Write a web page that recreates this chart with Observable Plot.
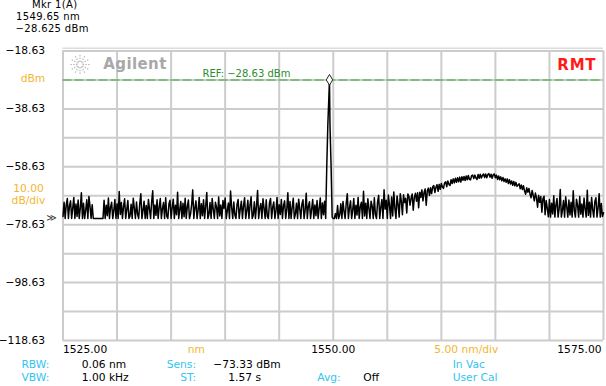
<!DOCTYPE html>
<html>
<head>
<meta charset="utf-8">
<script src="https://cdn.jsdelivr.net/npm/d3@7"></script>
<script src="https://cdn.jsdelivr.net/npm/@observablehq/plot@0.6"></script>
<style>
  html, body { margin: 0; padding: 0; background: white; }
  #chart svg { display: block; }
</style>
</head>
<body>
<div id="chart"></div>
<script>
// ---------- data ----------
const traceStartNm = 1525;
const traceStepNm = 0.1;
// OSA trace power (dBm), one value per 0.1 nm from 1525.0 to 1575.0
const tracePowerDbm = [
  -75.8,-70.9,-76.5,-71.8,-69.6,-76.5,-72.1,-70.4,-76.5,-73.0,
  -69.2,-76.5,-71.5,-75.8,-70.1,-76.5,-72.9,-67.6,-76.5,-71.2,
  -76.5,-73.6,-70.0,-76.5,-68.9,-72.4,-76.5,-71.7,-76.5,-76.5,
  -76.5,-76.5,-76.5,-76.5,-76.5,-76.5,-76.5,-76.5,-70.2,-76.5,
  -71.9,-75.5,-69.4,-76.5,-72.6,-70.9,-76.5,-73.8,-69.9,-76.5,
  -71.4,-76.5,-67.2,-75.1,-71.0,-76.5,-72.3,-69.7,-76.5,-73.4,
  -70.3,-76.5,-75.6,-71.6,-76.5,-69.5,-72.9,-76.5,-70.8,-75.0,
  -76.5,-71.3,-67.9,-76.5,-73.7,-70.5,-76.5,-72.0,-76.5,-69.9,
  -73.2,-76.5,-70.7,-66.9,-76.5,-71.8,-75.4,-70.0,-76.5,-72.6,
  -69.6,-76.5,-73.1,-71.0,-76.5,-69.3,-75.7,-76.5,-71.5,-70.2,
  -76.5,-72.7,-69.8,-76.5,-71.9,-75.2,-67.4,-76.5,-73.5,-70.6,
  -76.5,-71.2,-75.9,-69.5,-76.5,-72.4,-70.1,-76.5,-75.0,-71.7,
  -66.6,-76.5,-72.8,-70.4,-76.5,-73.6,-69.2,-76.5,-71.4,-75.5,
  -70.0,-76.5,-72.2,-67.5,-76.5,-75.1,-71.0,-76.5,-69.6,-73.3,
  -76.5,-70.9,-72.5,-76.5,-69.1,-75.6,-71.8,-76.5,-70.3,-73.0,
  -69.4,-76.5,-73.7,-71.1,-76.5,-67.0,-72.6,-76.5,-70.8,-75.3,
  -76.5,-71.6,-69.9,-76.5,-73.2,-70.5,-76.5,-72.1,-69.3,-76.5,
  -73.8,-70.2,-76.5,-71.9,-69.0,-76.5,-75.4,-70.7,-76.5,-72.3,
  -66.8,-76.5,-73.0,-71.3,-76.5,-69.7,-72.9,-76.5,-70.0,-75.8,
  -76.5,-71.0,-69.6,-76.5,-72.5,-70.8,-76.5,-73.9,-69.2,-76.5,
  -71.7,-75.1,-69.9,-76.5,-72.0,-70.4,-76.5,-73.4,-67.6,-76.5,
  -70.6,-76.5,-72.7,-69.5,-76.5,-75.0,-71.2,-76.5,-69.8,-73.1,
  -76.5,-71.5,-70.0,-76.5,-73.6,-67.8,-76.5,-72.2,-70.7,-76.5,
  -73.3,-69.9,-76.5,-71.8,-75.5,-70.3,-76.5,-72.9,-69.4,-76.5,
  -71.1,-75.2,-70.5,-76.5,-58.5,-44.0,-34.0,-44.5,-58.5,-76.0,
  -76.5,-76.5,-74.8,-76.5,-72.0,-76.5,-75.2,-71.4,-76.5,-70.6,
  -74.0,-76.5,-71.3,-67.9,-76.5,-72.8,-70.4,-76.5,-73.5,-69.6,
  -76.5,-71.9,-75.3,-69.2,-76.5,-72.4,-70.9,-76.5,-67.1,-75.6,
  -71.2,-76.5,-69.7,-73.0,-76.5,-70.5,-72.2,-76.5,-69.3,-75.1,
  -76.5,-70.8,-68.5,-76.5,-72.6,-69.9,-76.5,-66.6,-73.3,-70.2,
  -76.5,-68.4,-71.8,-76.5,-69.1,-75.6,-67.3,-72.9,-76.5,-68.7,
  -71.6,-76.0,-67.9,-70.5,-75.2,-68.3,-71.0,-69.5,-74.6,-68.0,
  -68.8,-71.9,-69.5,-68.0,-73.6,-69.2,-67.8,-70.5,-67.6,-72.8,
  -67.4,-69.2,-66.6,-70.4,-67.5,-66.3,-71.9,-66.9,-66.0,-68.5,
  -65.9,-67.9,-65.6,-65.1,-67.5,-65.7,-64.8,-67.1,-64.7,-66.4,
  -64.4,-65.6,-66.1,-64.2,-63.8,-65.5,-63.5,-64.7,-65.1,-63.1,
  -64.4,-62.8,-64.2,-62.6,-64.0,-62.4,-63.8,-62.2,-63.9,-62.1,
  -63.3,-62.0,-63.4,-61.8,-63.1,-61.6,-63.0,-63.1,-61.7,-61.5,
  -62.7,-61.5,-62.5,-63.0,-61.3,-62.6,-61.2,-62.5,-61.6,-61.1,
  -62.3,-61.1,-62.4,-61.3,-61.0,-62.2,-61.2,-62.6,-61.4,-61.1,
  -62.4,-61.5,-63.0,-61.8,-63.1,-62.1,-63.5,-62.3,-63.7,-62.8,
  -64.0,-62.8,-64.4,-63.1,-64.6,-63.5,-65.0,-63.7,-65.2,-64.0,
  -65.4,-64.9,-64.5,-66.2,-64.9,-66.5,-65.2,-67.0,-68.1,-65.9,
  -67.4,-66.1,-68.0,-69.3,-66.8,-68.5,-70.4,-67.7,-69.3,-72.6,
  -68.5,-70.9,-68.9,-74.3,-69.6,-68.8,-75.2,-70.3,-73.0,-75.9,
  -69.9,-76.0,-71.2,-74.9,-68.6,-76.0,-71.8,-69.6,-76.0,-73.0,
  -66.5,-76.0,-73.6,-70.3,-76.0,-69.0,-72.4,-76.0,-70.1,-75.3,
  -70.9,-76.0,-66.9,-73.8,-76.0,-69.8,-71.9,-76.0,-68.9,-75.0,
  -71.5,-76.0,-69.4,-73.2,-76.0,-66.7,-75.4,-70.9,-76.0,-69.2,
  -73.4,-76.0,-70.6,-69.3,-76.0,-72.8,-67.9,-76.0,-71.3,-75.8,
  -74.5
];
// laser peak sample (between grid points)
const peakWavelengthNm = [1549.65];
const peakPowerDbm = [-28.63];

const markerWavelengthNm = [1549.65];
const markerPowerDbm = [-28.625];
const refLevelDbm = -28.63;

const xTickValues = [1525, 1550, 1575];
const xGridValues = [1525, 1530, 1535, 1540, 1545, 1550, 1555, 1560, 1565, 1570, 1575];
const yTickValues = [-18.63, -38.63, -58.63, -78.63, -98.63, -118.63];
const yGridValues = [-18.63, -28.63, -38.63, -48.63, -58.63, -68.63, -78.63, -88.63, -98.63, -108.63, -118.63];

// ---------- build ----------
const trace = tracePowerDbm
  .map((p, i) => ({wl: +(traceStartNm + i * traceStepNm).toFixed(2), p}))
  .concat(peakWavelengthNm.map((wl, i) => ({wl, p: peakPowerDbm[i]})))
  .sort((a, b) => a.wl - b.wl);
const markers = markerWavelengthNm.map((wl, i) => ({wl, p: markerPowerDbm[i]}));

const fmtDb = d => (d < 0 ? "\u2212" : "") + Math.abs(d).toFixed(2);
const fmtNm = d => d.toFixed(2);

const gridColor = "#cccccc";
const tallDiamond = {
  draw(ctx, size) {
    ctx.moveTo(0, -5.5); ctx.lineTo(3.2, 0); ctx.lineTo(0, 5.2); ctx.lineTo(-3.2, 0); ctx.closePath();
  }
};

const chart = Plot.plot({
  width: 606,
  height: 386,
  marginLeft: 62.5,
  marginRight: 3,
  marginTop: 50.5,
  marginBottom: 46,
  x: {domain: [1525, 1575], axis: null},
  y: {domain: [-118.63, -18.63], axis: null},
  style: {fontFamily: "DejaVu Sans", fontSize: "10.7px", background: "white", color: "black", overflow: "visible"},
  marks: [
    Plot.gridX(xGridValues, {stroke: gridColor, strokeOpacity: 1, strokeWidth: 2}),
    Plot.gridY(yGridValues, {stroke: gridColor, strokeOpacity: 1, strokeWidth: 2}),
    Plot.axisY(yTickValues, {anchor: "left", tickSize: 0, tickPadding: 18, tickFormat: fmtDb, label: null}),
    Plot.axisX([xTickValues[0]], {anchor: "bottom", tickSize: 0, tickPadding: 5, textAnchor: "start", tickFormat: fmtNm, label: null}),
    Plot.axisX([xTickValues[1]], {anchor: "bottom", tickSize: 0, tickPadding: 5, textAnchor: "middle", tickFormat: fmtNm, label: null}),
    Plot.axisX([xTickValues[2]], {anchor: "bottom", tickSize: 0, tickPadding: 5, textAnchor: "end", dx: -2, tickFormat: fmtNm, label: null}),
    Plot.ruleY([refLevelDbm], {stroke: "#66b866", strokeWidth: 1.5, strokeDasharray: "9,3"}),
    Plot.text([{wl: 1537.9, p: refLevelDbm}], {x: "wl", y: "p", text: d => "REF: " + fmtDb(d.p) + " dBm", textAnchor: "start", dy: -6.5, fill: "#2e8b2e", fontSize: 10}),
    Plot.line(trace, {x: "wl", y: "p", stroke: "black", strokeWidth: 1.5}),
    Plot.dot(markers, {x: "wl", y: "p", symbol: tallDiamond, r: 4, stroke: "#222", fill: "white", strokeWidth: 1})
  ]
});

document.getElementById("chart").appendChild(chart);

// ---------- instrument annotations ----------
const svg = d3.select(chart);
// extra top frame line
svg.append("line").attr("x1", 62.5).attr("x2", 603).attr("y1", 48.3).attr("y2", 48.3)
  .attr("stroke", "#dcdcdc").attr("stroke-width", 1.5);

const cyan = "#33c4f0", orange = "#f2b632";
const markerBlock = [
  ["Mkr 1(A)", 32, 8.2, "start"],
  ["1549.65 nm", 16, 19.9, "start"],
  ["\u221228.625 dBm", 15.5, 31.6, "start"]
];
const mg = svg.append("g").attr("font-family", "DejaVu Sans").attr("font-size", 10).attr("letter-spacing", 0.35);
for (const [t, x, y, a] of markerBlock) {
  mg.append("text").attr("x", x).attr("y", y).attr("text-anchor", a).attr("fill", "black").text(t);
}
const labels = [
  ["dBm", 20.7, 82.3, "start", orange],
  ["10.00", 28.5, 191.7, "middle", orange],
  ["dB/div", 28.5, 204.2, "middle", orange],
  ["nm", 205, 352.5, "end", orange],
  ["5.00 nm/div", 434.3, 352.5, "start", orange],
  ["RBW:", 49.3, 367.7, "end", cyan],
  ["0.06 nm", 81.7, 367.7, "start", "black"],
  ["Sens:", 196, 367.7, "end", cyan],
  ["\u221273.33 dBm", 213.3, 367.7, "start", "black"],
  ["In Vac", 452.7, 367.7, "start", cyan],
  ["VBW:", 49.3, 381, "end", cyan],
  ["1.00 kHz", 81.7, 381, "start", "black"],
  ["ST:", 196, 381, "end", cyan],
  ["1.57 s", 228.3, 381, "start", "black"],
  ["Avg:", 317.3, 381, "start", cyan],
  ["Off", 363.3, 381, "start", "black"],
  ["User Cal", 452.7, 381, "start", cyan]
];
const g = svg.append("g").attr("font-family", "DejaVu Sans").attr("font-size", 10.7);
for (const [t, x, y, a, c] of labels) {
  g.append("text").attr("x", x).attr("y", y).attr("text-anchor", a).attr("fill", c).text(t);
}
g.append("text").attr("x", 51.5).attr("y", 220.5).attr("text-anchor", "middle").attr("font-size", 10).attr("fill", "#333").text("\u226B");

// Agilent logo
const logo = svg.append("g").attr("transform", "translate(80,64.5)");
for (let k = 0; k < 12; k++) {
  const a = k * Math.PI / 6;
  logo.append("line")
    .attr("x1", 2.5 * Math.cos(a)).attr("y1", 2.5 * Math.sin(a))
    .attr("x2", 10 * Math.cos(a)).attr("y2", 10 * Math.sin(a))
    .attr("stroke", "#b8b8b8").attr("stroke-width", 1.2).attr("stroke-dasharray", "1.5,1.3");
}
svg.append("text").attr("x", 103.3).attr("y", 68.8).attr("text-anchor", "start").attr("font-family", "DejaVu Sans").attr("font-weight", "bold")
  .attr("font-size", 15).attr("letter-spacing", 0.4).attr("fill", "#a8a8a8").text("Agilent");
svg.append("text").attr("x", 557.3).attr("y", 70).attr("text-anchor", "start").attr("font-family", "DejaVu Sans").attr("font-weight", "bold")
  .attr("font-size", 15).attr("letter-spacing", 0.8).attr("fill", "#ff1a1a").text("RMT");
</script>
</body>
</html>
